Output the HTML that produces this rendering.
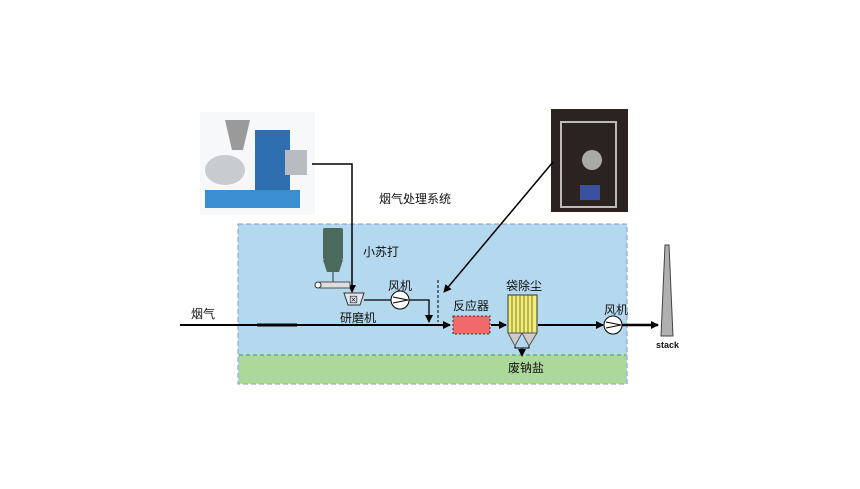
<!DOCTYPE html>
<html><head><meta charset="utf-8"><style>
body{margin:0;width:860px;height:484px;background:#fff;overflow:hidden}
svg text{font-family:"Liberation Sans","Noto Sans CJK SC",sans-serif;font-size:12px;fill:#111}
</style></head><body>
<svg width="860" height="484" viewBox="0 0 860 484">
<defs><marker id="a" markerWidth="8" markerHeight="8" refX="7" refY="4" orient="auto" markerUnits="userSpaceOnUse"><path d="M0,0 L8,4 L0,8 Z" fill="#000"/></marker></defs>
<rect x="238" y="224" width="389" height="160" fill="#b4d8ee" stroke="#8a90d0" stroke-dasharray="5,3"/>
<rect x="239" y="355" width="387" height="28" fill="#acd89a"/>
<line x1="239" y1="355" x2="626" y2="355" stroke="#3a9a4a" stroke-dasharray="4,3"/>
<!-- left photo -->
<rect x="200" y="112" width="115" height="103" fill="#f6f8fa"/>
<rect x="205" y="190" width="95" height="18" fill="#3b8fd0"/>
<rect x="255" y="130" width="35" height="60" fill="#2f6fb0"/>
<ellipse cx="225" cy="170" rx="20" ry="15" fill="#c8ccd0"/>
<path d="M225 120 L250 120 L243 150 L232 150 Z" fill="#9a9a9a"/>
<rect x="285" y="150" width="22" height="25" fill="#b8bcc0"/>
<!-- right photo -->
<rect x="551" y="109" width="77" height="103" fill="#2a2320"/>
<rect x="561" y="122" width="55" height="85" fill="none" stroke="#bbb" stroke-width="2"/>
<circle cx="592" cy="160" r="10" fill="#aaa"/>
<rect x="580" y="185" width="20" height="15" fill="#3a50a0"/>
<polyline points="312,164 352,164 352,292" fill="none" stroke="#000" stroke-width="1.5" marker-end="url(#a)"/>
<line x1="553" y1="162" x2="444" y2="292" stroke="#000" stroke-width="1.5" marker-end="url(#a)"/>
<text x="379" y="203">烟气处理系统</text>
<rect x="323" y="228" width="20" height="32" rx="2" fill="#4a6a5c"/>
<path d="M323 260 L343 260 L339 272 L327 272 Z" fill="#4a6a5c"/>
<line x1="333" y1="272" x2="333" y2="282" stroke="#333"/>
<rect x="320" y="282" width="30" height="6" fill="#ddd" stroke="#333" stroke-width="0.8"/>
<circle cx="318" cy="285" r="3" fill="#fff" stroke="#333"/>
<text x="363" y="256">小苏打</text>
<path d="M344 293 L364 293 L360 305 L348 305 Z" fill="#e0e8ee" stroke="#333"/>
<text x="349" y="303" style="font-size:9px">⊠</text>
<text x="340" y="322">研磨机</text>
<polyline points="364,300 392,300" stroke="#000" fill="none" stroke-width="1.3"/>
<circle cx="400" cy="300" r="9" fill="#fff" stroke="#000"/>
<path d="M393 297 L408 300 L393 303" fill="none" stroke="#000"/>
<text x="388" y="290">风机</text>
<polyline points="409,300 429,300 429,322" fill="none" stroke="#000" stroke-width="1.3" marker-end="url(#a)"/>
<line x1="438" y1="280" x2="438" y2="322" stroke="#000" stroke-dasharray="3,2"/>
<text x="191" y="318">烟气</text>
<line x1="180" y1="325" x2="450" y2="325" stroke="#000" stroke-width="2" marker-end="url(#a)"/>
<line x1="257" y1="325" x2="297" y2="325" stroke="#000" stroke-width="3"/>
<text x="453" y="310">反应器</text>
<rect x="453" y="316" width="37" height="18" fill="#f06a6a" stroke="#333" stroke-dasharray="2,2"/>
<line x1="491" y1="325" x2="506" y2="325" stroke="#000" stroke-width="2" marker-end="url(#a)"/>
<text x="506" y="290">袋除尘</text>
<rect x="508" y="295" width="29" height="38" fill="#f5f06a" stroke="#333"/>
<path d="M512 295V333M516 295V333M520 295V333M524 295V333M528 295V333M532 295V333" stroke="#555" stroke-width="0.8"/>
<path d="M508 333 L522 333 L515 346 Z M522 333 L537 333 L529 346 Z" fill="#ccc" stroke="#555"/>
<polyline points="515,346 515,348 529,348 529,346" fill="none" stroke="#000"/>
<line x1="522" y1="348" x2="522" y2="356" stroke="#000" marker-end="url(#a)"/>
<text x="508" y="372">废钠盐</text>
<line x1="538" y1="325" x2="603" y2="325" stroke="#000" stroke-width="2" marker-end="url(#a)"/>
<circle cx="613" cy="325" r="9" fill="#fff" stroke="#000"/>
<path d="M606 322 L621 325 L606 328" fill="none" stroke="#000"/>
<text x="604" y="314">风机</text>
<line x1="622" y1="325" x2="658" y2="325" stroke="#000" stroke-width="2.5" marker-end="url(#a)"/>
<path d="M665 245 L669 245 L673 336 L661 336 Z" fill="#b0b0b0" stroke="#444"/>
<text x="656" y="348" style="font-size:9px;font-weight:bold">stack</text>
</svg>
</body></html>
